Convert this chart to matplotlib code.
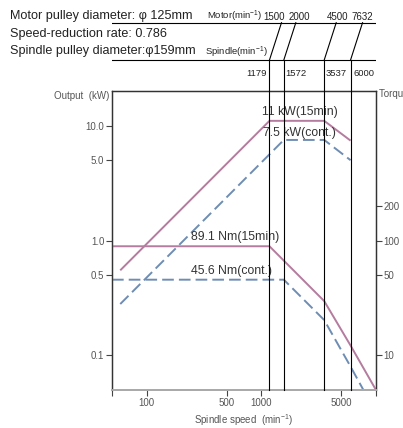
import numpy as np
import matplotlib
matplotlib.use('Agg')
import matplotlib.pyplot as plt

plt.rcParams['font.family'] = ['Liberation Sans', 'DejaVu Sans']

# spindle speed (min^-1) vs output (kW) and torque (Nm)
speed_p15 = [59, 1179, 3537, 6000]
power_15 = [0.55, 11.0, 11.0, 7.4]
speed_pc = [59, 1572, 3537, 6000]
power_cont = [0.28, 7.5, 7.5, 5.0]
speed_t15 = [50, 1179, 3537, 6000, 10000]
torque_15 = [89.1, 89.1, 29.7, 12.2, 5.0]
speed_tc = [50, 1572, 3537, 6000, 7770]
torque_cont = [45.6, 45.6, 20.3, 8.0, 5.0]

motor_speeds = [1500, 2000, 4500, 7632]
spindle_speeds = [1179, 1572, 3537, 6000]

x_ticks = [50, 100, 500, 1000, 5000, 10000]
x_labels = ['', '100', '500', '1000', '5000', '']
p_ticks = [0.1, 0.5, 1.0, 5.0, 10.0]
t_ticks = [10, 50, 100, 200]

PINK = '#b47c9e'
BLUE = '#6e8db3'
GREY = '#555555'
W, H = 403, 428

fig = plt.figure(figsize=(W / 100, H / 100), dpi=100)
L, R, T, B = 112, 376, 91, 390
ax = fig.add_axes([L / W, 1 - B / H, (R - L) / W, (B - T) / H])
ax.set_xscale('log')
ax.set_yscale('log')
ax.set_xlim(50, 10000)
ax.set_ylim(0.05, 20)
ax2 = ax.twinx()
ax2.set_yscale('log')
ax2.set_ylim(5, 2000)

ax.plot(speed_p15, power_15, color=PINK, lw=1.4, solid_capstyle='butt')
ax.plot(speed_pc, power_cont, color=BLUE, lw=1.4, dashes=(6, 2.6))
ax2.plot(speed_t15, torque_15, color=PINK, lw=1.4, solid_capstyle='butt')
ax2.plot(speed_tc, torque_cont, color=BLUE, lw=1.4, dashes=(6, 2.6))

ax.text(2190, 13.1, '11 kW(15min)', ha='center', va='center', fontsize=8.8, color='#333333')
ax.text(2130, 8.6, '7.5 kW(cont.)', ha='center', va='center', fontsize=8.8, color='#333333')
ax2.text(593, 108, '89.1 Nm(15min)', ha='center', va='center', fontsize=8.8, color='#333333')
ax2.text(555, 54.8, '45.6 Nm(cont.)', ha='center', va='center', fontsize=8.8, color='#333333')

ax.set_xticks(x_ticks)
ax.set_xticklabels(x_labels)
ax.xaxis.set_minor_locator(matplotlib.ticker.NullLocator())
ax.set_yticks(p_ticks)
ax.set_yticklabels(['%.1f' % v for v in p_ticks])
ax.yaxis.set_minor_locator(matplotlib.ticker.NullLocator())
ax2.set_yticks(t_ticks)
ax2.set_yticklabels([str(v) for v in t_ticks])
ax2.yaxis.set_minor_locator(matplotlib.ticker.NullLocator())
for a in (ax, ax2):
    a.tick_params(length=4, width=0.8, color='#444444', labelsize=7, labelcolor=GREY, pad=1.5)
ax.set_xlabel('Spindle speed  (min$^{\\mathregular{-1}}$)', fontsize=7, color=GREY, labelpad=3)

for a in (ax, ax2):
    for s in ['left', 'right', 'top']:
        a.spines[s].set_color('#333333')
        a.spines[s].set_linewidth(0.9)
    a.spines['bottom'].set_color('#aaaaaa')
    a.spines['bottom'].set_linewidth(1.4)

fig.text(109 / W, 1 - 96 / H, 'Output  (kW)', ha='right', va='center', fontsize=7, color=GREY)
# the reference cuts this label at the right edge
fig.text(379 / W, 1 - 94 / H, 'Torque  (Nm)', ha='left', va='center', fontsize=7, color=GREY)

# overlay for the pulley conversion leaders, y in pixels
ov = fig.add_axes([L / W, 0, (R - L) / W, 1], zorder=5)
ov.patch.set_alpha(0)
ov.set_axis_off()
ov.set_xscale('log')
ov.set_xlim(50, 10000)
ov.set_ylim(H, 0)
y_top, y_low = 22.7, 60
ov.plot([50, 10000], [y_top, y_top], color='black', lw=0.8)
ov.plot([50, 10000], [y_low, y_low], color='black', lw=0.8)
for m, s in zip(motor_speeds, spindle_speeds):
    ov.plot([m, s], [y_top, y_low], color='black', lw=0.8)
    ov.plot([s, s], [y_low, B], color='black', lw=0.8)

motor_dx = [-7, 3.5, 1.5, 0]
for m, dx in zip(motor_speeds, motor_dx):
    ov.annotate(str(m), (m, 19.5), xytext=(dx * 0.72, 0), textcoords='offset points',
                ha='center', va='baseline', fontsize=7, color='#222222')
spindle_ha = ['right', 'left', 'left', 'left']
spindle_dx = [-2.5, 1.5, 1.5, 2.5]
for s, ha, dx in zip(spindle_speeds, spindle_ha, spindle_dx):
    ov.annotate(str(s), (s, 75.5), xytext=(dx * 0.72, 0), textcoords='offset points',
                ha=ha, va='baseline', fontsize=6.8, color='#222222')

fig.text(262.5 / W, 1 - 19.5 / H, 'Motor(min$^{\\mathregular{-1}}$)', ha='right', va='baseline',
         fontsize=6.8, color='#222222')
fig.text(268 / W, 1 - 55 / H, 'Spindle(min$^{\\mathregular{-1}}$)', ha='right', va='baseline',
         fontsize=6.8, color='#222222')

fig.text(10 / W, 1 - 19.5 / H, 'Motor pulley diameter: \u03c6 125mm', ha='left', va='baseline',
         fontsize=9.1, color='#222222')
fig.text(10 / W, 1 - 36.5 / H, 'Speed-reduction rate: 0.786', ha='left', va='baseline',
         fontsize=9.1, color='#222222')
fig.text(10 / W, 1 - 54 / H, 'Spindle pulley diameter:\u03c6159mm', ha='left', va='baseline',
         fontsize=9.1, color='#222222')

fig.savefig('out.png', dpi=100)
